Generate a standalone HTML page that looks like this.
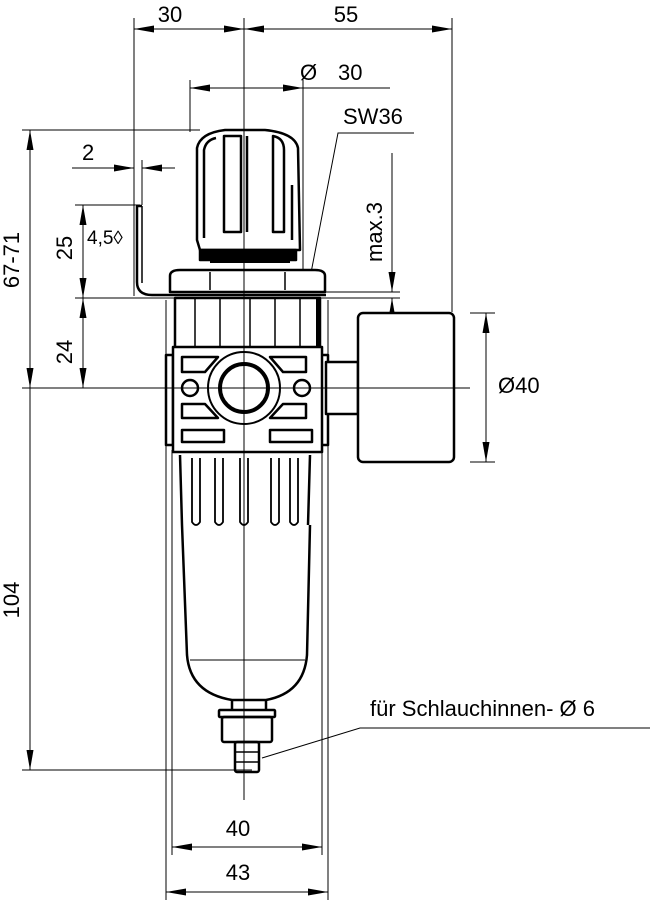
<!DOCTYPE html>
<html><head><meta charset="utf-8"><style>
html,body{margin:0;padding:0;background:#fff}
svg{display:block}
text{font-family:"Liberation Sans",Arial,sans-serif;fill:#000}
</style></head><body>
<svg width="654" height="900" viewBox="0 0 654 900" xmlns="http://www.w3.org/2000/svg">
<defs>
<marker id="a" viewBox="0 0 10 6" refX="10" refY="3" markerWidth="20" markerHeight="7" markerUnits="userSpaceOnUse" orient="auto-start-reverse" preserveAspectRatio="none"><path d="M0,0L10,3L0,6z" fill="#000"/></marker>
</defs>
<g stroke="#000" stroke-width="1" fill="none">
<line x1="134" y1="18" x2="134" y2="296"/>
<line x1="244" y1="18" x2="244" y2="800"/>
<line x1="452" y1="18" x2="452" y2="312"/>
<line x1="190" y1="80" x2="190" y2="132"/>
<line x1="303" y1="80" x2="303" y2="275"/>
<line x1="22" y1="130" x2="200" y2="130"/>
<line x1="22" y1="388" x2="470" y2="388"/>
<line x1="22" y1="770" x2="252" y2="770"/>
<line x1="75" y1="205" x2="140" y2="205"/>
<line x1="75" y1="298" x2="400" y2="298"/>
<line x1="325" y1="292" x2="400" y2="292"/>
<line x1="142" y1="160" x2="142" y2="205"/>
<line x1="166" y1="300" x2="166" y2="900"/>
<line x1="328" y1="300" x2="328" y2="900"/>
<line x1="172" y1="450" x2="172" y2="855"/>
<line x1="322" y1="450" x2="322" y2="855"/>
<line x1="470" y1="313" x2="495" y2="313"/>
<line x1="470" y1="462" x2="495" y2="462"/>
<line x1="134" y1="29" x2="244" y2="29" marker-start="url(#a)" marker-end="url(#a)"/>
<line x1="244" y1="29" x2="452" y2="29" marker-start="url(#a)" marker-end="url(#a)"/>
<line x1="190" y1="88" x2="303" y2="88" marker-start="url(#a)" marker-end="url(#a)"/>
<line x1="303" y1="88" x2="390" y2="88"/>
<line x1="72" y1="168" x2="134" y2="168" marker-end="url(#a)"/>
<line x1="175" y1="168" x2="142" y2="168" marker-end="url(#a)"/>
<line x1="30" y1="130" x2="30" y2="388" marker-start="url(#a)" marker-end="url(#a)"/>
<line x1="30" y1="388" x2="30" y2="770" marker-end="url(#a)"/>
<line x1="83" y1="205" x2="83" y2="298" marker-start="url(#a)" marker-end="url(#a)"/>
<line x1="83" y1="298" x2="83" y2="388" marker-start="url(#a)" marker-end="url(#a)"/>
<line x1="392" y1="153" x2="392" y2="292" marker-end="url(#a)"/>
<line x1="392" y1="332" x2="392" y2="298" marker-end="url(#a)"/>
<line x1="486" y1="313" x2="486" y2="462" marker-start="url(#a)" marker-end="url(#a)"/>
<line x1="172" y1="847" x2="322" y2="847" marker-start="url(#a)" marker-end="url(#a)"/>
<line x1="166" y1="892" x2="328" y2="892" marker-start="url(#a)" marker-end="url(#a)"/>
<polyline points="414,133 338,133 310,278"/>
<polyline points="650,728 360,728 262,758"/>
</g>
<g stroke="#000" stroke-width="2.5" fill="none" stroke-linejoin="round">
<path d="M197,240 L197,148 Q200,133 225,130 L265,130 Q295,133 298,148 L300,250 L200,250 Z" fill="#fff"/>
<path d="M204,238 L204,150 Q206,140 216,138"/>
<path d="M224,232 L224,136 L241,136 L241,232 Z"/>
<path d="M247,232 L247,136"/>
<path d="M273,232 L273,136 Q284,138 284,150 L284,232 Z"/>
<path d="M292,240 L292,185"/>
<rect x="200" y="250" width="96" height="10" fill="#000"/>
<line x1="210" y1="262" x2="290" y2="262" stroke-width="2"/>
<path d="M170,292 L170,276 Q170,270 180,270 L315,270 Q325,270 325,276 L325,292 Z" fill="#fff"/>
<line x1="210" y1="272" x2="210" y2="290" stroke-width="1.5"/>
<line x1="285" y1="272" x2="285" y2="290" stroke-width="1.5"/>
<path d="M137,206 L137,282 Q137,295 152,295 L326,295"/>
<line x1="142" y1="206" x2="142" y2="283" stroke-width="1.5"/>
<line x1="136" y1="206" x2="142" y2="206"/>
<rect x="175" y="298" width="145" height="50" fill="#fff"/>
<line x1="195" y1="298" x2="195" y2="348" stroke-width="1.5"/>
<line x1="220" y1="298" x2="220" y2="348" stroke-width="1.5"/>
<line x1="250" y1="298" x2="250" y2="348" stroke-width="1.5"/>
<line x1="275" y1="298" x2="275" y2="348" stroke-width="1.5"/>
<line x1="300" y1="298" x2="300" y2="348" stroke-width="1.5"/>
<line x1="318" y1="298" x2="318" y2="348" stroke-width="4"/>
<rect x="166" y="355" width="7" height="90" fill="#fff"/>
<rect x="321" y="355" width="7" height="90" fill="#fff"/>
<rect x="173" y="347" width="149" height="105" fill="#fff"/>
<path d="M182,357 L218,357 L205,372 L182,372 Z"/>
<path d="M306,357 L270,357 L283,372 L306,372 Z"/>
<path d="M182,404 L205,404 L218,418 L182,418 Z"/>
<path d="M306,404 L283,404 L270,418 L306,418 Z"/>
<circle cx="190" cy="388" r="8"/>
<circle cx="302" cy="388" r="8"/>
<circle cx="244" cy="388" r="36" stroke-width="2"/>
<circle cx="244" cy="388" r="24" stroke-width="4"/>
<rect x="182" y="430" width="42" height="12"/>
<rect x="270" y="430" width="42" height="12"/>
<rect x="326" y="362" width="32" height="52" fill="#fff"/>
<rect x="358" y="313" width="96" height="149" rx="5" fill="#fff"/>
<path d="M180,455 L182,525 M310,455 L308,525"/>
<g stroke-width="1.8">
<path d="M192,458 L192,522 Q196,528 200,522 L200,458"/>
<path d="M215,458 L215,522 Q219,528 223,522 L223,458"/>
<path d="M240,458 L240,522 Q244,528 248,522 L248,458"/>
<path d="M271,458 L271,522 Q275,528 279,522 L279,458"/>
<path d="M290,458 L290,522 Q294,528 298,522 L298,458"/>
</g>
<path d="M182,525 L187,655 Q190,693 232,700 L266,700 Q304,693 307,655 L310,525"/>
<line x1="190" y1="660" x2="305" y2="660" stroke-width="1"/>
<path d="M232,700 L232,710 M266,700 L266,710"/>
<rect x="219" y="710" width="56" height="7" rx="1"/>
<rect x="222" y="717" width="50" height="25" rx="2"/>
<rect x="235" y="742" width="24" height="30" rx="2"/>
<line x1="235" y1="752" x2="259" y2="752" stroke-width="1.5"/>
<line x1="235" y1="762" x2="259" y2="762" stroke-width="1.5"/>
</g>
<line x1="244" y1="130" x2="244" y2="800" stroke="#000" stroke-width="1"/>
<line x1="150" y1="388" x2="470" y2="388" stroke="#000" stroke-width="1"/>
<g font-size="22">
<text x="170" y="22" text-anchor="middle">30</text>
<text x="346" y="22" text-anchor="middle">55</text>
<text x="300" y="80">Ø</text><text x="338" y="80">30</text>
<text x="343" y="124">SW36</text>
<text x="82" y="160">2</text>
<text x="87" y="244" font-size="19">4,5◊</text>
<text transform="translate(72,248) rotate(-90)" text-anchor="middle">25</text>
<text transform="translate(72,352) rotate(-90)" text-anchor="middle">24</text>
<text transform="translate(19,260) rotate(-90)" text-anchor="middle">67-71</text>
<text transform="translate(19,600) rotate(-90)" text-anchor="middle">104</text>
<text transform="translate(382,232) rotate(-90)" text-anchor="middle">max.3</text>
<text x="498" y="393">Ø40</text>
<text x="238" y="836" text-anchor="middle">40</text>
<text x="238" y="880" text-anchor="middle">43</text>
<text x="370" y="716">für Schlauchinnen- Ø 6</text>
</g>
</svg>
</body></html>
